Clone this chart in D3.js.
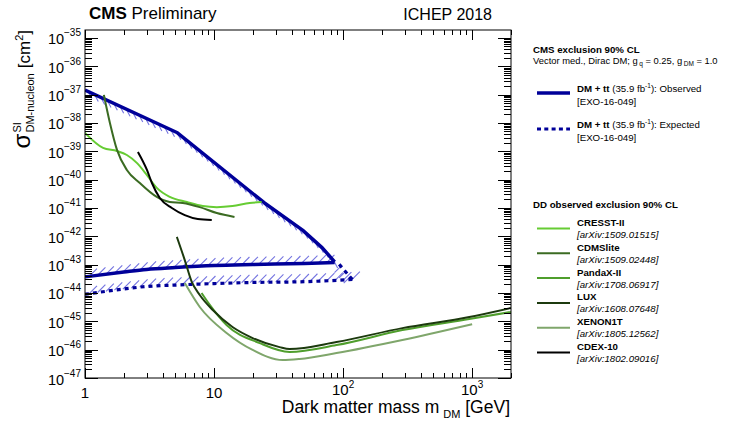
<!DOCTYPE html>
<html>
<head>
<meta charset="utf-8">
<script src="https://cdn.jsdelivr.net/npm/d3@7"></script>
<style>
body { margin: 0; background: #fff; }
text { font-family: "Liberation Sans", Arial, Helvetica, sans-serif; }
</style>
</head>
<body>
<script>
// CMS DM + tt exclusion contour, [mass GeV, sigma cm2]
var obsUpper = [[1, 1.45e-37], [5.2, 4.5e-39], [24.6, 1.5e-41], [48.5, 1.65e-42], [69, 3.9e-43], [86, 1.25e-43]];
var obsLower = [[1, 3.7e-44], [2, 5.5e-44], [3, 6.8e-44], [5, 7.9e-44], [10, 9.3e-44], [20, 1.01e-43], [50, 1.1e-43], [86, 1.2e-43]];
var expLower = [[1, 9e-45], [2, 1.38e-44], [3, 1.7e-44], [5, 1.9e-44], [10, 2.15e-44], [20, 2.35e-44], [50, 2.5e-44], [118, 3.0e-44]];
var expEdge = [[118, 3.0e-44], [89, 1.3e-43]];

// direct detection limits
var cresst = [[1, 4.47e-39], [1.38, 1.32e-39], [1.77, 1.02e-39], [2.11, 7.4e-40], [2.52, 3.9e-40], [3.02, 1.45e-40],
  [3.6, 5.1e-41], [4.54, 2.45e-41], [6.15, 1.62e-41], [8.18, 1.17e-41], [10.5, 1.07e-41], [13.9, 1.17e-41],
  [18.9, 1.5e-41], [23.4, 1.62e-41]];
var cdmslite = [[1.4, 9.8e-38], [1.56, 1e-38], [1.77, 1.12e-39], [2.11, 2.2e-40], [2.66, 7.6e-41], [3.6, 2.45e-41],
  [4.54, 1.62e-41], [5.73, 1.5e-41], [7.75, 1.07e-41], [10.5, 6.6e-42], [14.4, 4.8e-42]];
var pandax = [[8, 1e-44], [9.27, 3.8e-45], [12.5, 7.4e-46], [22.6, 1.7e-46], [38.5, 8.3e-47], [88.9, 1.45e-46],
  [288, 4.9e-46], [950, 1.2e-45], [2000, 2.14e-45]];
var lux = [[5.15, 9.5e-43], [5.93, 1.45e-43], [6.72, 2.45e-44], [7.75, 8.5e-45], [9.77, 2.5e-45], [13.9, 6.3e-46],
  [19.9, 2.57e-46], [32.2, 1.23e-46], [38.5, 1.05e-46], [88.9, 1.86e-46], [288, 5.75e-46], [950, 1.41e-45], [2000, 2.95e-45]];
var xenon1t = [[5.93, 2.24e-44], [7.75, 3.2e-45], [12.5, 3.9e-46], [19.9, 9.8e-47], [34, 4.3e-47], [46, 4.7e-47],
  [88.9, 7.6e-47], [288, 2.2e-46], [1000, 7.9e-46]];
var cdex = [[2.57, 9.5e-40], [3.02, 2.2e-40], [3.3, 7.6e-41], [3.8, 2.24e-41], [4.71, 1e-41], [5.93, 5.6e-42],
  [7.48, 4.1e-42], [9.6, 3.8e-42]];

var ddNames = ['CRESST-II', 'CDMSlite', 'PandaX-II', 'LUX', 'XENON1T', 'CDEX-10'];
var ddRefs = ['[arXiv:1509.01515]', '[arXiv:1509.02448]', '[arXiv:1708.06917]', '[arXiv:1608.07648]', '[arXiv:1805.12562]', '[arXiv:1802.09016]'];
var ddData = [cresst, cdmslite, pandax, lux, xenon1t, cdex];
var ddColors = ['#66cc33', '#3b6b22', '#4f9e2c', '#1c3a0e', '#7fa66b', '#000000'];

var xDecades = [1, 10, 100, 1000];
var yExponents = d3.range(-47, -34);

var blue = '#000099', hatchColor = '#7474e0';

var svg = d3.select('body').append('svg').attr('width', 729).attr('height', 421);
svg.append('rect').attr('width', 729).attr('height', 421).attr('fill', '#fff');

var x = d3.scaleLog().domain([1, 2000]).range([85, 511]);
var y = d3.scaleLog().domain([1e-47, Math.pow(10, -34.72)]).range([378, 30]);

svg.append('clipPath').attr('id', 'plot')
  .append('rect').attr('x', 85).attr('y', 30).attr('width', 426).attr('height', 348);

var g = svg.append('g').attr('clip-path', 'url(#plot)');

var lin = d3.line().x(function(d) { return x(d[0]); }).y(function(d) { return y(d[1]); });
var smooth = d3.line().curve(d3.curveMonotoneX).x(function(d) { return x(d[0]); }).y(function(d) { return y(d[1]); });

var hatchG = g.append('g');

function hatch(node, step, len, ang) {
  var total = node.getTotalLength();
  var dx = Math.cos(ang) * len, dy = Math.sin(ang) * len;
  for (var s = step / 2; s < total; s += step) {
    var p = node.getPointAtLength(s);
    hatchG.append('line')
      .attr('x1', p.x).attr('y1', p.y).attr('x2', p.x + dx).attr('y2', p.y + dy)
      .attr('stroke', hatchColor).attr('stroke-width', 1.1);
  }
}

var rad = Math.PI / 180;
var pUp = g.append('path').attr('d', lin(obsUpper));
var pLo = g.append('path').attr('d', smooth(obsLower));
var pEl = g.append('path').attr('d', smooth(expLower));
var pEe = g.append('path').attr('d', lin(expEdge));
hatch(pUp.node(), 7, 8, 62 * rad);
hatch(pLo.node(), 8.5, 11, -45 * rad);
hatch(pEl.node(), 8.5, 11, -45 * rad);
hatch(pEe.node(), 7, 9, 135 * rad);

[pUp, pLo].forEach(function(p) {
  p.attr('fill', 'none').attr('stroke', blue).attr('stroke-width', 3.5).attr('stroke-linejoin', 'round');
  p.raise();
});
[pEl, pEe].forEach(function(p) {
  p.attr('fill', 'none').attr('stroke', blue).attr('stroke-width', 3.2).attr('stroke-dasharray', '4,4');
  p.raise();
});

ddData.forEach(function(d, i) {
  g.append('path').attr('d', smooth(d)).attr('fill', 'none')
    .attr('stroke', ddColors[i]).attr('stroke-width', 2);
});

// frame and ticks
svg.append('rect').attr('x', 85).attr('y', 30).attr('width', 426).attr('height', 348)
  .attr('fill', 'none').attr('stroke', '#000').attr('stroke-width', 1);

var ax = svg.append('g').attr('stroke', '#000').attr('stroke-width', 1);
xDecades.forEach(function(dec) {
  for (var k = 1; k <= 9; k++) {
    var v = dec * k;
    if (v > 2000) break;
    var px = Math.round(x(v)) + 0.5, L = k === 1 ? 10 : 5;
    ax.append('line').attr('x1', px).attr('x2', px).attr('y1', 378).attr('y2', 378 - L);
    ax.append('line').attr('x1', px).attr('x2', px).attr('y1', 30).attr('y2', 30 + L);
  }
});
yExponents.forEach(function(e) {
  for (var k = 1; k <= 9; k++) {
    var v = k * Math.pow(10, e);
    if (v > y.domain()[1]) break;
    var py = Math.round(y(v)) + 0.5, L = k === 1 ? 13 : 7;
    ax.append('line').attr('x1', 85).attr('x2', 85 + L).attr('y1', py).attr('y2', py);
    ax.append('line').attr('x1', 511).attr('x2', 511 - L).attr('y1', py).attr('y2', py);
  }
});

// y tick labels
yExponents.forEach(function(e) {
  var t = svg.append('text').attr('x', 81).attr('y', y(Math.pow(10, e)) + 6.5)
    .attr('text-anchor', 'end').attr('font-size', 14.5);
  t.append('tspan').text('10');
  t.append('tspan').attr('font-size', 10).attr('dy', -8).text('\u2212' + (-e));
});

// x tick labels
xDecades.forEach(function(dec, i) {
  var t = svg.append('text').attr('x', x(dec)).attr('text-anchor', 'middle').attr('font-size', 15);
  if (i === 0) t.attr('y', 398).text('1');
  else if (i === 1) t.attr('y', 398).text('10');
  else {
    t.attr('y', 395);
    t.append('tspan').text('10');
    t.append('tspan').attr('font-size', 10).attr('dy', -7).text(String(i));
  }
});

// axis titles
var xt = svg.append('text').attr('x', 510).attr('y', 413).attr('text-anchor', 'end').attr('font-size', 17.5);
xt.append('tspan').text('Dark matter mass m');
xt.append('tspan').attr('font-size', 11).attr('dx', 4).attr('dy', 5).text('DM');
xt.append('tspan').attr('dy', -5).text(' [GeV]');

var yt = svg.append('g');
var sig = yt.append('text').attr('x', 0).attr('y', 0).attr('font-size', 24).text('\u03c3');
var w0 = sig.node().getComputedTextLength() + 1;
var sup = yt.append('text').attr('x', w0).attr('y', -9).attr('font-size', 11).text('SI');
var sub = yt.append('text').attr('x', w0).attr('y', 4).attr('font-size', 11).text('DM-nucleon');
var w1 = w0 + Math.max(sup.node().getComputedTextLength(), sub.node().getComputedTextLength()) + 5;
var unit = yt.append('text').attr('x', w1).attr('y', 0).attr('font-size', 17);
unit.append('tspan').text('[cm');
unit.append('tspan').attr('font-size', 11).attr('dy', -7).text('2');
unit.append('tspan').attr('dy', 7).text(']');
var total = w1 + unit.node().getComputedTextLength();
yt.attr('transform', 'translate(30,' + (30 + total) + ') rotate(-90)');

// header
var h = svg.append('text').attr('x', 89).attr('y', 19).attr('font-size', 17);
h.append('tspan').attr('font-weight', 'bold').text('CMS');
h.append('tspan').text(' Preliminary');
svg.append('text').attr('x', 492).attr('y', 20).attr('text-anchor', 'end').attr('font-size', 16).text('ICHEP 2018');

// legend: CMS
var lg = svg.append('g').attr('font-size', 9.7);
lg.append('text').attr('x', 533).attr('y', 53).attr('font-weight', 'bold').text('CMS exclusion 90% CL');
var vt = lg.append('text').attr('x', 533).attr('y', 63.5).attr('font-size', 9.4);
vt.append('tspan').text('Vector med., Dirac DM; g');
vt.append('tspan').attr('font-size', 6.5).attr('dx', 1.5).attr('dy', 2.5).text('q');
vt.append('tspan').attr('dy', -2.5).text(' = 0.25, g');
vt.append('tspan').attr('font-size', 6.5).attr('dx', 1.5).attr('dy', 2.5).text('DM');
vt.append('tspan').attr('dy', -2.5).text(' = 1.0');

var cmsEntries = ['Observed', 'Expected'];
cmsEntries.forEach(function(name, i) {
  var ly = 93 + i * 36;
  var ln = lg.append('line').attr('x1', 537).attr('x2', 570).attr('y1', ly).attr('y2', ly)
    .attr('stroke', blue).attr('stroke-width', 3.5);
  if (i === 1) ln.attr('stroke-dasharray', '4,3.3').attr('stroke-width', 3.2);
  var t = lg.append('text').attr('x', 577).attr('y', ly - 1);
  t.append('tspan').attr('font-weight', 'bold').text('DM + tt');
  t.append('tspan').text(' (35.9 fb');
  t.append('tspan').attr('font-size', 6.5).attr('dy', -4).text('-1');
  t.append('tspan').attr('dy', 4).text('): ' + name);
  lg.append('text').attr('x', 577).attr('y', ly + 11.5).text('[EXO-16-049]');
});

// legend: direct detection
lg.append('text').attr('x', 533).attr('y', 208).attr('font-weight', 'bold').text('DD observed exclusion 90% CL');
ddNames.forEach(function(name, i) {
  var ly = 228.5 + i * 24.8;
  lg.append('line').attr('x1', 537).attr('x2', 570).attr('y1', ly).attr('y2', ly)
    .attr('stroke', ddColors[i]).attr('stroke-width', 2);
  lg.append('text').attr('x', 577).attr('y', ly - 2.5).attr('font-weight', 'bold').text(name);
  lg.append('text').attr('x', 577).attr('y', ly + 9.5).attr('font-style', 'italic').text(ddRefs[i]);
});
</script>
</body>
</html>
